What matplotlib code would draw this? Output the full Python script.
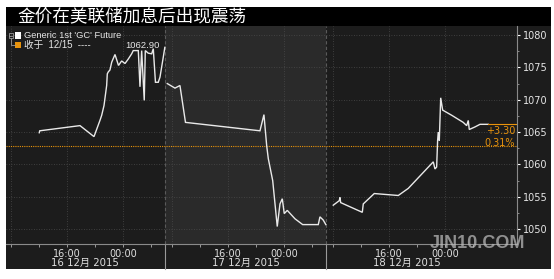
import matplotlib
matplotlib.use("Agg")
import matplotlib.pyplot as plt
from matplotlib.patches import Rectangle
from matplotlib.lines import Line2D
from matplotlib.ticker import MultipleLocator, FixedLocator
import matplotlib.transforms as mtrans

plt.rcParams['font.family'] = ['DejaVu Sans', 'Noto Sans CJK SC']

# ---------------- data ----------------
title = "金价在美联储加息后出现震荡"
series_name = "Generic 1st 'GC' Future"
close_label = "收于  12/15  ----"
close_value = 1062.90
last_change = "+3.30"
last_change_pct = "0.31%"
session_days = ["16 12月 2015", "17 12月 2015", "18 12月 2015"]
label_hours = [16, 24]
label_texts = ["16:00", "00:00"]
y_ticks = [1050, 1055, 1060, 1065, 1070, 1075, 1080]
watermark = "JIN10.COM"

# Beijing clock hours in each trading session (values > 24 are on the next day)
s1_hours = [12.04, 12.11, 17.86, 19.86, 20.71, 20.96, 21.29, 21.67, 21.76, 21.9,
            22.14, 22.39, 22.86, 23.36, 23.81, 24.29, 24.76, 25.24, 25.47, 26.19,
            26.43, 26.67, 27.04, 27.19, 27.61, 28.1, 28.33, 28.64, 29.04, 29.29,
            29.76, 29.98]
s1_price = [1064.9, 1065.2, 1066.0, 1064.3, 1066.8, 1067.6, 1069.1, 1072.2, 1074.0, 1074.3,
            1074.6, 1075.8, 1077.0, 1075.3, 1076.0, 1075.6, 1076.3, 1077.1, 1077.6, 1077.6,
            1072.0, 1077.6, 1069.9, 1077.6, 1077.2, 1077.1, 1077.9, 1072.7, 1072.7, 1073.5,
            1076.6, 1078.1]

s2_hours = [7.33, 8.43, 9.14, 9.93, 20.57, 21.14, 21.53, 21.76, 22.39, 23.04,
            23.43, 23.76, 24.04, 24.47, 25.57, 26.67, 28.9, 29.14, 29.61, 29.98]
s2_price = [1072.5, 1071.8, 1072.2, 1066.5, 1065.2, 1067.7, 1062.9, 1060.9, 1057.5, 1050.4,
            1053.9, 1054.7, 1052.4, 1052.9, 1051.6, 1050.7, 1050.7, 1051.9, 1051.4, 1050.7]

s3_hours = [8.04, 8.9, 9.0, 9.1, 12.19, 12.33, 13.9, 17.33, 18.76, 22.33,
            22.57, 22.81, 22.9, 22.95, 23.04, 23.19, 23.39, 23.67, 24.96, 26.61,
            27.1, 27.33, 27.47, 28.29, 29.0, 30.2]
s3_price = [1053.7, 1054.4, 1054.9, 1054.1, 1052.6, 1053.9, 1055.5, 1055.2, 1056.3, 1060.4,
            1059.3, 1059.6, 1062.2, 1063.7, 1065.0, 1063.7, 1070.3, 1068.4, 1067.6, 1066.5,
            1066.0, 1066.8, 1065.4, 1065.8, 1066.2, 1066.2]

sessions = [(s1_hours, s1_price), (s2_hours, s2_price), (s3_hours, s3_price)]
SESSION_OPEN = 7      # session opens 07:00 Beijing
SESSION_LEN = 23      # hours of trading per session


def to_x(session, hour):
    return session * SESSION_LEN + (hour - SESSION_OPEN)


# ---------------- layout ----------------
W, H = 554, 279
fig = plt.figure(figsize=(W / 100, H / 100), dpi=100)
fig.patch.set_facecolor('white')


def fx(px):
    return px / W


def fy(py):
    return 1 - py / H


BG = '#1c1c1c'
SHADE = '#2a2a2a'
ORANGE = '#e8930c'

fig.patches.append(Rectangle((fx(6), fy(269)), fx(551) - fx(6), fy(7) - fy(269),
                             transform=fig.transFigure, facecolor=BG, edgecolor='none', zorder=-10))
fig.patches.append(Rectangle((fx(6), fy(25.5)), fx(551) - fx(6), fy(7) - fy(25.5),
                             transform=fig.transFigure, facecolor='black', edgecolor='none', zorder=-9))

fig.text(fx(17), fy(16.5), title, color='white', fontsize=12.7, va='center', ha='left',
         family=['Noto Sans CJK SC', 'DejaVu Sans'])

ax = fig.add_axes([fx(6), fy(244), fx(517) - fx(6), fy(26) - fy(244)])
ax.set_facecolor(BG)
xmin, xmax = 0.29, 73.29
ax.set_xlim(xmin, xmax)
ax.set_ylim(1047.7, 1081.4)

# shaded second session
ax.axvspan(to_x(1, SESSION_OPEN), to_x(2, SESSION_OPEN), color=SHADE, zorder=0, lw=0)

# grid
for yv in y_ticks:
    ax.axhline(yv, color='#4a4a4a', ls=(0, (1, 2)), lw=0.6, zorder=1)
for s in range(3):
    for h in (8, 16, 24):
        ax.axvline(to_x(s, h), color='#4a4a4a', ls=(0, (1, 2)), lw=0.6, zorder=1)
for s in (1, 2):
    ax.axvline(to_x(s, SESSION_OPEN), color='#5a5a5a', ls=(0, (3, 2)), lw=0.8, zorder=1)

# close reference line
ax.axhline(close_value, color=ORANGE, ls=(0, (1, 1)), lw=0.8, zorder=2)

# price lines
for s, (hrs, prc) in enumerate(sessions):
    ax.plot([to_x(s, h) for h in hrs], prc, color='#e9e9e9', lw=1.0, zorder=3,
            solid_joinstyle='miter')

last_x = to_x(2, s3_hours[-1])
last_p = s3_price[-1]
ax.plot([last_x, xmax], [last_p, last_p], color=ORANGE, lw=0.8, zorder=3)

# spines
for side in ('left', 'top'):
    ax.spines[side].set_visible(False)
ax.spines['right'].set_color('#8a8a8a')
ax.spines['bottom'].set_color('#8a8a8a')
ax.spines['right'].set_linewidth(0.8)
ax.spines['bottom'].set_linewidth(0.8)

# y axis on the right
ax.yaxis.tick_right()
ax.set_yticks(y_ticks)
ax.set_yticklabels([str(v) for v in y_ticks])
ax.yaxis.set_minor_locator(MultipleLocator(2.5))
ax.tick_params(axis='y', which='major', colors='white', length=2.5, width=0.8,
               labelsize=7, labelcolor='#e6e6e6', pad=2)
ax.tick_params(axis='y', which='minor', colors='#9a9a9a', length=1.5, width=0.6)

# x axis ticks
major_pos, major_lab = [], []
minor_pos = []
for s in range(3):
    for h, lab in zip(label_hours, label_texts):
        major_pos.append(to_x(s, h))
        major_lab.append(lab)
    for h in range(8, 30, 4):
        minor_pos.append(to_x(s, h))
ax.xaxis.set_major_locator(FixedLocator(major_pos))
ax.set_xticklabels(major_lab)
ax.xaxis.set_minor_locator(FixedLocator(minor_pos))
ax.tick_params(axis='x', which='both', colors='#9a9a9a', length=2, width=0.7,
               labelsize=7, labelcolor='#e0e0e0', pad=1.5)

btrans = mtrans.blended_transform_factory(ax.transData, fig.transFigure)
for s, day in enumerate(session_days):
    cx = to_x(s, SESSION_OPEN + SESSION_LEN / 2)
    ax.text(cx, fy(262.5), day, transform=btrans, ha='center', va='center',
            fontsize=7.3, color='#e0e0e0', clip_on=False)
for s in (1, 2):
    bx = to_x(s, SESSION_OPEN)
    ax.add_line(Line2D([bx, bx], [fy(244), fy(269)], transform=btrans, color='#9a9a9a',
                       lw=0.8, clip_on=False))

# last value change labels
fig.text(fx(515), fy(130.5), last_change, color=ORANGE, fontsize=7, ha='right', va='center')
fig.text(fx(515), fy(143), last_change_pct, color=ORANGE, fontsize=7, ha='right', va='center')

# legend
fig.patches.append(Rectangle((fx(8.5), fy(37.5)), fx(4), fy(33.5) - fy(37.5), transform=fig.transFigure,
                             facecolor='none', edgecolor='#9a9a9a', lw=0.6))
fig.lines.append(Line2D([fx(9.3), fx(11.7)], [fy(35.5), fy(35.5)], transform=fig.transFigure,
                        color='#9a9a9a', lw=0.6))
fig.lines.append(Line2D([fx(10.5), fx(10.5), fx(14.5)], [fy(37.5), fy(45), fy(45)],
                        transform=fig.transFigure, color='#9a9a9a', lw=0.6))
fig.patches.append(Rectangle((fx(15), fy(38.5)), fx(6), fy(32) - fy(38.5), transform=fig.transFigure,
                             facecolor='white', edgecolor='none'))
fig.patches.append(Rectangle((fx(15), fy(48)), fx(6), fy(41.5) - fy(48), transform=fig.transFigure,
                             facecolor=ORANGE, edgecolor='none'))
fig.text(fx(24.5), fy(35.5), series_name, color='#e6e6e6', fontsize=6.7, ha='left', va='center',
         family=['Liberation Sans', 'DejaVu Sans'])
fig.text(fx(24.5), fy(45), close_label, color='#e6e6e6', fontsize=6.9, ha='left', va='center',
         family=['Liberation Sans', 'Noto Sans CJK SC'])
fig.text(fx(142), fy(45.5), f"{close_value:.2f}", color='#e6e6e6', fontsize=6.8, ha='center',
         va='center', family=['Liberation Sans', 'DejaVu Sans'])

# watermark
fig.text(fx(477), fy(243), watermark, color='#bdbdbd', alpha=0.72, fontsize=13, fontweight='bold',
         ha='center', va='center', family=['Liberation Sans', 'DejaVu Sans'])

fig.savefig('out.png', dpi=100, facecolor='white')
